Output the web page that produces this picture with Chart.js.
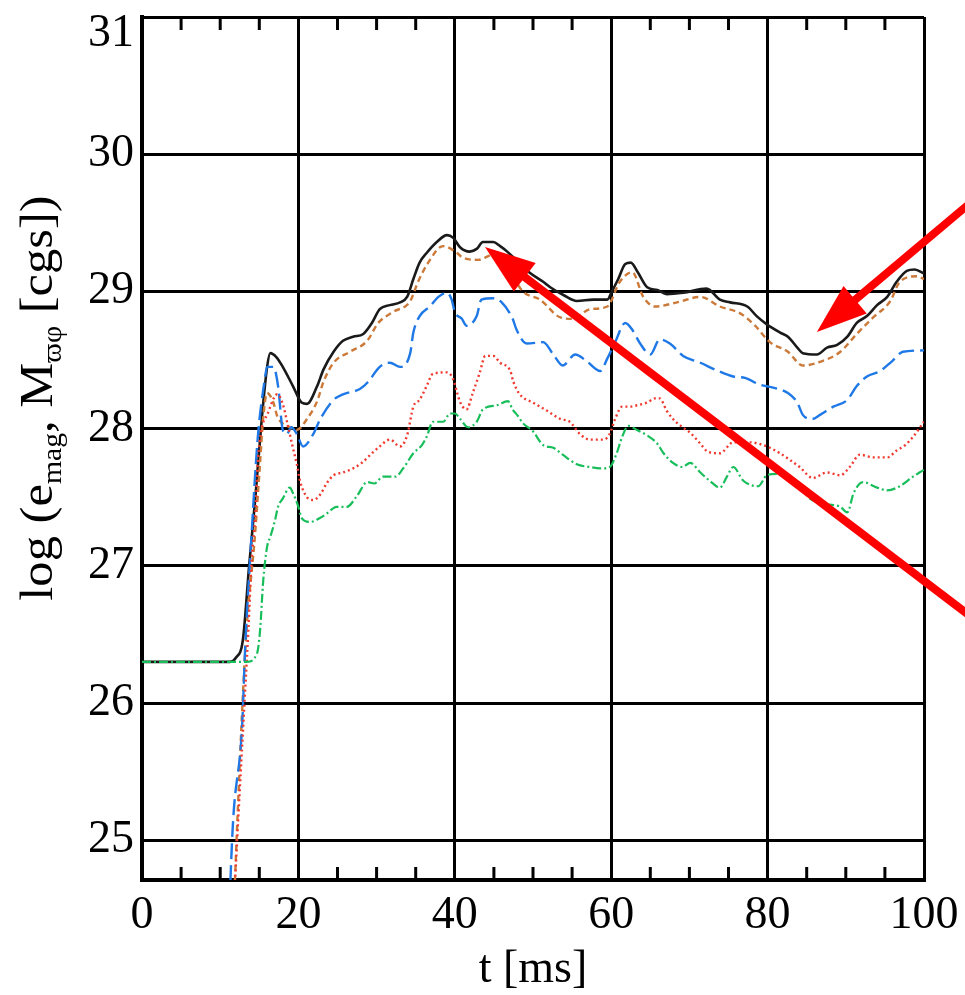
<!DOCTYPE html>
<html><head><meta charset="utf-8">
<script src="https://cdn.jsdelivr.net/npm/chart.js@4/dist/chart.umd.min.js"></script>
<style>html,body{margin:0;padding:0;background:#fff;}canvas{display:block;}</style>
</head><body>
<canvas id="c" width="965" height="995"></canvas>
<script>
// ---- tick labels ----
const xTicks = [0, 20, 40, 60, 80, 100];
const xMinorTicks = [5, 10, 15, 25, 30, 35, 45, 50, 55, 65, 70, 75, 85, 90, 95];
const yTicks = [25, 26, 27, 28, 29, 30, 31];

// ---- series (t in ms, value = log) ----
const tBlack = [0,11.2,12.0,12.9,13.7,14.5,15.3,16.0,16.4,17.2,18.0,19.3,20.4,21.1,22.4,23.2,24.5,25.7,27.0,28.3,29.4,30.4,31.7,33.0,33.9,34.7,35.5,36.4,37.7,39.0,39.8,40.7,41.9,42.8,43.6,44.9,45.8,46.7,48.0,49.5,51.3,52.2,54.0,55.6,57.7,59.5,60.1,60.9,61.8,62.5,63.4,64.6,65.9,67.1,69.2,72.2,73.9,75.2,77.4,78.6,79.9,81.6,82.6,83.8,84.5,86.3,87.6,88.9,90.2,91.4,92.7,94.0,95.3,96.5,97.8,98.8,100];
const vBlack = [26.3,26.3,26.33,26.46,27.0,27.5,28.06,28.45,28.55,28.52,28.45,28.31,28.19,28.18,28.31,28.43,28.56,28.64,28.67,28.69,28.77,28.87,28.9,28.92,28.96,29.09,29.21,29.28,29.36,29.41,29.39,29.32,29.29,29.31,29.36,29.36,29.33,29.29,29.22,29.14,29.07,29.03,28.97,28.93,28.94,28.94,29.0,29.09,29.2,29.21,29.14,29.03,29.01,28.98,28.99,29.02,28.94,28.92,28.89,28.82,28.76,28.7,28.67,28.59,28.55,28.54,28.59,28.61,28.67,28.77,28.82,28.9,28.96,29.07,29.15,29.16,29.13];

const tOrange = [11.3,13.2,14.5,15.1,15.5,16.0,16.8,17.3,18.9,19.8,21.1,22.4,23.2,24.5,26.6,28.8,30.2,32.1,34.3,35.3,36.6,38.5,40.3,40.9,43.0,45.0,47.0,48.7,50.9,53.5,55.0,57.3,59.5,61.1,62.7,64.1,65.6,68.4,71.4,73.9,76.5,78.4,80.3,82.6,84.5,86.9,89.3,91.4,93.5,95.7,96.9,99.1,100];
const vOrange = [23.9,26.38,27.26,27.75,28.08,28.26,28.19,28.09,28.01,27.99,28.07,28.2,28.34,28.48,28.56,28.64,28.77,28.85,28.93,29.07,29.21,29.33,29.28,29.25,29.23,29.27,29.15,29.0,28.94,28.81,28.8,28.87,28.89,29.07,29.14,28.96,28.89,28.92,28.96,28.89,28.84,28.75,28.63,28.56,28.46,28.49,28.56,28.69,28.81,28.93,29.07,29.11,29.09];

const tBlue = [10.8,11.6,12.8,13.2,13.8,14.8,15.7,16.0,16.8,17.4,18.0,18.5,19.1,19.8,20.6,21.9,22.8,24.5,25.7,27.9,28.9,30.4,31.7,33.0,34.3,34.7,35.5,36.8,37.9,39.0,39.6,40.0,40.9,41.5,42.8,43.4,44.9,46.0,47.4,47.9,49.2,51.3,52.6,53.8,55.4,56.9,58.6,59.5,60.5,61.8,62.7,63.7,65.0,66.2,67.5,69.2,71.4,73.3,75.6,77.1,79.0,80.6,82.6,83.8,84.5,85.7,86.7,88.4,90.2,91.4,92.7,94.4,95.9,97.3,100];
const vBlue = [23.9,25.09,25.83,26.41,27.02,27.93,28.36,28.45,28.45,28.31,27.99,27.96,28.01,27.96,27.87,27.96,28.07,28.21,28.25,28.29,28.34,28.45,28.48,28.45,28.55,28.7,28.82,28.89,28.96,28.99,28.94,28.85,28.8,28.75,28.82,28.94,28.95,28.92,28.8,28.72,28.62,28.63,28.54,28.46,28.54,28.49,28.42,28.51,28.63,28.77,28.72,28.62,28.54,28.65,28.62,28.53,28.48,28.43,28.38,28.37,28.32,28.3,28.26,28.19,28.1,28.07,28.1,28.16,28.21,28.31,28.38,28.42,28.49,28.56,28.57];

const tRed = [11.0,11.9,12.3,13.2,13.6,14.0,14.5,14.8,15.3,16.0,17.3,18.0,18.7,19.3,19.8,20.2,21.1,21.9,22.8,23.6,24.5,25.7,27.0,28.1,29.4,30.4,31.7,33.0,33.9,34.7,35.5,36.4,37.2,39.0,39.8,40.3,40.7,41.5,42.3,43.2,43.9,44.9,45.8,47.1,47.5,48.3,50.0,51.8,53.5,54.7,56.0,57.3,59.0,59.8,60.5,61.4,62.4,63.3,64.6,65.6,66.2,67.1,67.9,69.1,70.1,71.4,72.4,73.9,75.6,77.7,79.9,81.6,82.9,84.1,85.8,87.6,89.3,90.5,91.8,93.5,95.3,96.5,97.6,98.6,100];
const vRed = [23.9,24.71,25.15,26.1,26.53,27.02,27.38,27.75,28.0,28.1,28.25,28.18,28.01,27.86,27.74,27.62,27.5,27.48,27.52,27.6,27.66,27.68,27.71,27.75,27.82,27.87,27.92,27.87,27.95,28.16,28.21,28.31,28.4,28.41,28.36,28.26,28.19,28.14,28.26,28.41,28.53,28.53,28.48,28.42,28.34,28.25,28.19,28.13,28.07,28.05,27.96,27.92,27.92,27.96,28.07,28.16,28.16,28.17,28.19,28.22,28.22,28.13,28.07,28.01,27.97,27.89,27.83,27.82,27.9,27.9,27.87,27.82,27.77,27.72,27.64,27.68,27.66,27.72,27.81,27.79,27.79,27.84,27.88,27.94,28.05];

const tGreen = [0,13.4,14.7,15.1,15.5,16.0,16.4,17.0,17.4,18.0,18.9,19.3,20.0,20.4,21.5,22.8,23.6,24.9,26.2,27.5,28.8,29.7,30.8,32.4,33.4,34.7,35.8,36.4,37.2,38.5,39.4,40.0,40.7,41.7,42.8,43.6,45.4,46.8,47.4,48.1,48.7,50.0,51.3,52.6,53.8,55.6,57.3,58.6,59.8,60.7,61.4,62.2,63.3,64.6,65.9,66.7,67.9,69.1,70.1,71.4,72.6,73.9,74.8,75.6,76.9,78.8,79.9,81.2,82.9,84.1,85.4,87.6,89.3,90.2,91.0,92.2,94.0,95.3,96.9,98.6,100];
const vGreen = [26.3,26.3,26.36,26.53,26.89,27.14,27.21,27.33,27.43,27.49,27.57,27.53,27.43,27.35,27.32,27.35,27.38,27.43,27.43,27.51,27.61,27.6,27.65,27.65,27.71,27.82,27.88,27.94,28.05,28.05,28.11,28.11,28.07,28.01,28.05,28.14,28.17,28.2,28.14,28.09,28.04,27.98,27.88,27.86,27.81,27.74,27.72,27.71,27.72,27.82,27.94,28.02,27.99,27.95,27.89,27.82,27.75,27.72,27.75,27.68,27.62,27.57,27.65,27.72,27.62,27.58,27.66,27.67,27.64,27.58,27.49,27.45,27.43,27.39,27.53,27.61,27.57,27.55,27.58,27.65,27.7];

// ---- annotations (data units) ----
const arrowTails = [[105.9, 29.644], [105.9, 26.634]];
const arrowTips  = [[86.3, 28.704], [43.86, 29.324]];

const xTitle = 't [ms]';
const yTitleParts = [['log (e', false], ['mag', true], [', M', false], ['\u03D6\u03C6', true], [' [cgs])', false]];

const SERIF = '"Liberation Serif", "DejaVu Serif", "Times New Roman", serif';

function pts(t, v) { return t.map((x, i) => ({x: x, y: v[i]})); }

const decor = {
  id: 'decor',
  beforeDatasetsDraw(chart) {
    const {ctx, chartArea: a, scales: {x, y}} = chart;
    ctx.save();
    ctx.strokeStyle = '#000';
    ctx.lineWidth = 3;
    ctx.beginPath();
    xMinorTicks.forEach(v => {
      const px = x.getPixelForValue(v);
      ctx.moveTo(px, a.top); ctx.lineTo(px, a.top + 13);
      ctx.moveTo(px, a.bottom); ctx.lineTo(px, a.bottom - 13);
    });
    ctx.stroke();
    // y tick labels (top one kept inside the page, as in the original)
    ctx.fillStyle = '#000';
    ctx.font = '46px ' + SERIF;
    ctx.textAlign = 'right';
    ctx.textBaseline = 'middle';
    yTicks.forEach(v => {
      const py = Math.max(y.getPixelForValue(v), 34);
      ctx.fillText(String(v), a.left - 8, py);
    });
    ctx.restore();
  },
  afterDraw(chart) {
    const {ctx, scales: {x, y}} = chart;
    // y axis title with subscripts
    ctx.save();
    ctx.fillStyle = '#000';
    ctx.translate(52, 398);
    ctx.rotate(-Math.PI / 2);
    ctx.scale(1.1, 1);
    const mainF = '46px ' + SERIF, subF = '27px ' + SERIF;
    let total = 0;
    yTitleParts.forEach(([s, sub]) => { ctx.font = sub ? subF : mainF; total += ctx.measureText(s).width; });
    let cx = -total / 2;
    ctx.textBaseline = 'alphabetic';
    yTitleParts.forEach(([s, sub]) => {
      ctx.font = sub ? subF : mainF;
      ctx.fillText(s, cx, sub ? 9 : 0);
      cx += ctx.measureText(s).width;
    });
    ctx.restore();
    // arrows
    ctx.save();
    ctx.fillStyle = '#ff0000';
    ctx.strokeStyle = '#ff0000';
    ctx.lineWidth = 8;
    arrowTips.forEach((tip, i) => {
      const tail = arrowTails[i];
      const x1 = x.getPixelForValue(tail[0]), y1 = y.getPixelForValue(tail[1]);
      const x2 = x.getPixelForValue(tip[0]), y2 = y.getPixelForValue(tip[1]);
      const dx = x2 - x1, dy = y2 - y1, L = Math.hypot(dx, dy);
      const ux = dx / L, uy = dy / L, hl = 50, hw = 18;
      const bx = x2 - ux * hl, by = y2 - uy * hl;
      ctx.beginPath(); ctx.moveTo(x1, y1); ctx.lineTo(bx + ux * 4, by + uy * 4); ctx.stroke();
      ctx.beginPath();
      ctx.moveTo(x2, y2);
      ctx.lineTo(bx - uy * hw, by + ux * hw);
      ctx.lineTo(bx + uy * hw, by - ux * hw);
      ctx.closePath(); ctx.fill();
    });
    ctx.restore();
  }
};

function ds(t, v, color, dash, w) {
  return {data: pts(t, v), borderColor: color, borderDash: dash, borderWidth: w,
          pointRadius: 0, fill: false, cubicInterpolationMode: 'monotone'};
}

new Chart(document.getElementById('c'), {
  type: 'line',
  data: {datasets: [
    ds(tGreen, vGreen, '#18be5a', [9, 3, 2, 3], 2.2),
    ds(tRed, vRed, '#f03a30', [2, 3], 2.4),
    ds(tBlue, vBlue, '#1e78e6', [16, 6], 2.4),
    ds(tOrange, vOrange, '#cc7a3a', [6, 4], 2.4),
    ds(tBlack, vBlack, '#1a1a1a', [], 2.6)
  ]},
  options: {
    responsive: false, animation: false, devicePixelRatio: 1,
    layout: {padding: {top: 17, right: 41, left: 0, bottom: 0}},
    plugins: {legend: {display: false}, tooltip: {enabled: false}},
    scales: {
      x: {
        type: 'linear', min: 0, max: 100,
        afterBuildTicks: s => { s.ticks = xTicks.map(v => ({value: v})); },
        grid: {color: '#000', lineWidth: 3, drawTicks: false},
        border: {color: '#000', width: 4},
        ticks: {color: '#000', font: {family: SERIF, size: 46, lineHeight: 1.55}, padding: 0, maxRotation: 0, autoSkip: false},
        title: {display: true, text: xTitle, color: '#000', font: {family: SERIF, size: 46, lineHeight: 1.1}, padding: {top: 0, bottom: 0}},
        afterFit: s => { s.height = 115; }
      },
      y: {
        type: 'linear', min: 24.71, max: 31,
        afterBuildTicks: s => { s.ticks = yTicks.map(v => ({value: v})); },
        grid: {color: '#000', lineWidth: 3, drawTicks: false},
        border: {color: '#000', width: 4},
        ticks: {display: false},
        afterFit: s => { s.width = 142; }
      }
    }
  },
  plugins: [decor]
});
</script>
</body></html>
